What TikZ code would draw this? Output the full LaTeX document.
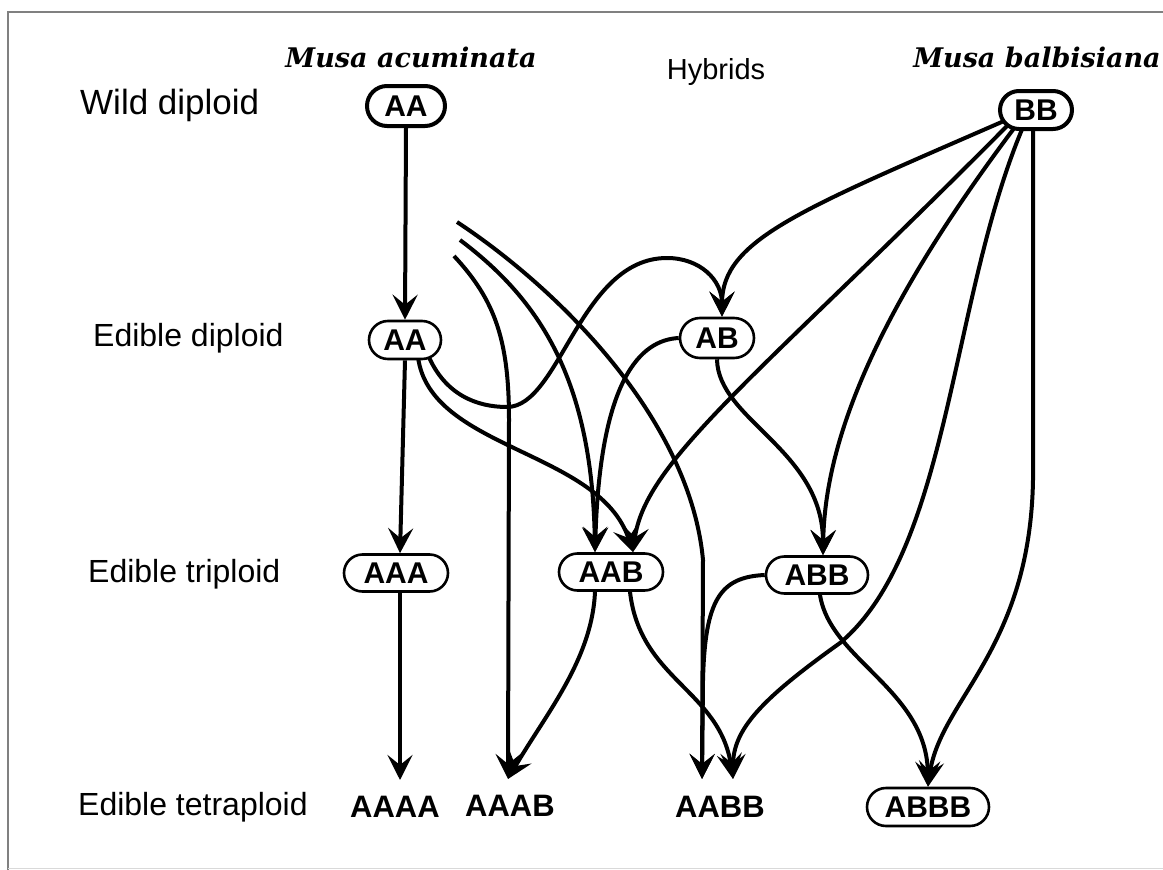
\documentclass[tikz,border=0pt]{standalone}
\usepackage{fontspec}
\setmainfont{Liberation Sans}
\newfontfamily\titlefont{DejaVu Serif}
\usetikzlibrary{arrows.meta,shapes.misc,calc,backgrounds}
\tikzset{
  conn/.style={line width=4pt, -{Stealth[length=25pt,width=25pt,inset=10pt]}},
  geno/.style={rounded rectangle, draw, line width=2.6pt, fill=white,
    font=\fontsize{30}{32}\selectfont\bfseries, inner sep=0pt, minimum height=38pt},
  wild/.style={geno, line width=4pt},
  tetra/.style={font=\fontsize{31}{33}\selectfont\bfseries, inner sep=0pt},
  lvl/.style={font=\fontsize{32}{34}\selectfont, anchor=west, inner sep=0pt},
  title/.style={font=\titlefont\fontsize{27}{30}\selectfont\bfseries\itshape, inner sep=0pt},
  frame/.style={draw=gray, line width=1.5pt}
}
\begin{document}
\begin{tikzpicture}[x=1pt,y=-1pt]
\useasboundingbox (0,0) rectangle (1163,870);
\draw[frame] (8,870) -- (8,12) -- (1163,12);
\draw[draw=gray!30, line width=1pt] (8,868) -- (1163,868);

% labels
\node[lvl, font=\fontsize{35}{37}\selectfont] (l1) at (80,105) {Wild diploid};
\node[lvl] (l2) at (93,338) {Edible diploid};
\node[lvl] (l3) at (88,574) {Edible triploid};
\node[lvl] (l4) at (78,807) {Edible tetraploid};
\node[title] (ma) at (411,57) {Musa acuminata};
\node[title] (mb) at (1037,57) {Musa balbisiana};
\node[font=\fontsize{29}{31}\selectfont, inner sep=0pt] (hy) at (716,72) {Hybrids};

% genome nodes
\node[wild, minimum width=78pt, minimum height=40pt] (aaW) at (406,106) {AA};
\node[wild, minimum width=72pt, minimum height=38pt] (bb) at (1036,110) {BB};
\node[geno, minimum width=72pt] (aaE) at (405,340) {AA};
\node[geno, minimum width=74pt, minimum height=40pt] (ab) at (717,338) {AB};
\node[geno, minimum width=104pt, minimum height=37pt] (aaa) at (396,573) {AAA};
\node[geno, minimum width=104pt, minimum height=37pt] (aab) at (611,572) {AAB};
\node[geno, minimum width=102pt, minimum height=37pt] (abb) at (817,575) {ABB};
\node[geno, minimum width=122pt, minimum height=38pt] (abbb) at (928,807) {ABBB};
\node[tetra] (aaaa) at (395,807) {AAAA};
\node[tetra] (aaab) at (510,806) {AAAB};
\node[tetra] (aabb) at (720,807) {AABB};

% free ends and tip points
\coordinate (t1) at (457,222);
\coordinate (t2) at (460,240);
\coordinate (t3) at (454,256);
\coordinate (abT) at ($(ab.north)+(5,0)$);
\coordinate (aabL) at ($(aab.north)+(-16,0)$);
\coordinate (aabR) at ($(aab.north)+(22,0)$);
\coordinate (abbT) at ($(abb.north)+(6,0)$);
\coordinate (aaaaT) at ($(aaaa.center)+(5,-27)$);
\coordinate (aaabT) at ($(aaab.center)+(-2,-27)$);
\coordinate (aabbL) at ($(aabb.center)+(-18,-28)$);
\coordinate (aabbR) at ($(aabb.center)+(13,-28)$);
\coordinate (bbL) at ($(bb.center)+(-32,11)$);
\coordinate (bbB1) at ($(bb.center)+(-28,15)$);
\coordinate (bbB2) at ($(bb.center)+(-21,17)$);
\coordinate (bbB3) at ($(bb.center)+(-13,17)$);
\coordinate (bbB4) at ($(bb.center)+(-3,17)$);

\begin{pgfonlayer}{background}
\draw[conn] (aaW.south) -- (aaE.north);
\draw[conn] (aaE.south) -- ($(aaa.north)+(4,0)$);
\draw[conn] ($(aaa.south)+(4,0)$) -- (aaaaT);
% to AB
\draw[conn] (bbL) .. controls (800,210) and (722,240) .. (abT);
\draw[conn] ($(aaE.center)+(23,15)$) .. controls (445,395) and (477,407) .. (507,407)
   .. controls (560,407) and (580,258) .. (667,258)
   .. controls (700,258) and (722,280) .. (abT);
% free ends
\draw[conn] (t1) .. controls (560,290) and (690,420) .. (703,560) -- (aabbL);
\draw[conn] (t2) .. controls (540,300) and (592,380) .. (aabL);
\draw[conn] (t3) .. controls (495,300) and (509,340) .. (509,420) -- (aaabT);
% to AAB
\draw[conn] (ab.west) .. controls (640,340) and (600,380) .. (aabL);
\draw[conn] ($(aaE.center)+(13,17)$) .. controls (430,450) and (600,450) .. (aabR);
\draw[conn] (bbB1) .. controls (760,375) and (645,460) .. (aabR);
% to ABB
\draw[conn] (bbB2) .. controls (900,280) and (825,420) .. (abbT);
\draw[conn] (ab.south) .. controls (718,420) and (823,450) .. (abbT);
% to AABB
\draw[conn] (bbB3) .. controls (950,300) and (950,550) .. (840,643)
   .. controls (760,700) and (733,730) .. (aabbR);
\draw[conn] ($(aab.south)+(19,0)$) .. controls (640,680) and (720,690) .. (aabbR);
\draw[conn] (abb.west) .. controls (720,577) and (705,600) .. (703,680) -- (aabbL);
% to ABBB
\draw[conn] (bbB4) -- (1033,480) .. controls (1030,650) and (940,700) .. (abbb.north);
\draw[conn] ($(abb.south)+(3,0)$) .. controls (830,660) and (927,690) .. (abbb.north);
% to AAAB
\draw[conn] ($(aab.south)+(-16,0)$) .. controls (592,660) and (545,715) .. (aaabT);
\end{pgfonlayer}
\end{tikzpicture}
\end{document}
